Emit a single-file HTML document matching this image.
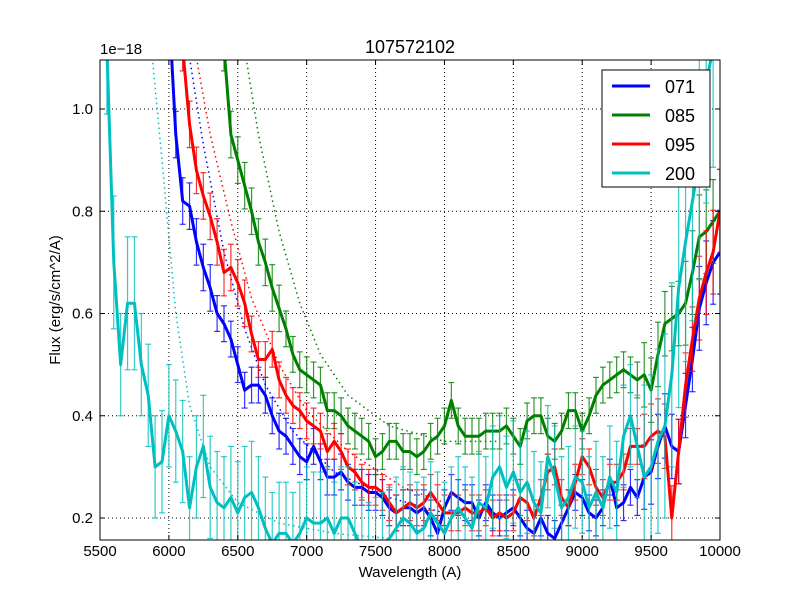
<!DOCTYPE html>
<html><head><meta charset="utf-8"><style>
body{margin:0;background:#fff}
svg{display:block;font-family:"Liberation Sans",sans-serif}
</style></head><body>
<svg id="chart" width="800" height="600">
<rect x="0" y="0" width="800" height="600" fill="#fff"/>
<text x="410" y="53" font-size="18" text-anchor="middle">107572102</text>
<text x="100" y="54" font-size="15">1e−18</text>
<text x="410" y="577" font-size="15" text-anchor="middle">Wavelength (A)</text>
<text x="60" y="300" font-size="15" text-anchor="middle" transform="rotate(-90 60 300)">Flux (erg/s/cm^2/A)</text>
<g id="grid"></g>
<g id="plot" clip-path="url(#clip)"></g>
<defs><clipPath id="clip"><rect x="100" y="60" width="620" height="480"/></clipPath></defs>
<rect x="100" y="60" width="620" height="480" fill="none" stroke="#000" stroke-width="1"/>
<g id="ticks"></g>
<g id="legend"></g>
</svg>
<script>
const xTicks=[5500,6000,6500,7000,7500,8000,8500,9000,9500,10000];
const yTicks=[0.2,0.4,0.6,0.8,1.0];
const names=["071","085","095","200"];
const colors=["#0000ff","#008000","#ff0000","#00bfbf"];
const blueStart=6000;
const blueFlux=[1.2,0.95,0.82,0.81,0.74,0.69,0.65,0.60,0.58,0.55,0.50,0.45,0.46,0.46,0.44,0.40,0.37,0.36,0.34,0.32,0.31,0.34,0.31,0.28,0.28,0.29,0.27,0.26,0.26,0.25,0.25,0.24,0.22,0.21,0.22,0.22,0.21,0.22,0.20,0.17,0.22,0.25,0.24,0.23,0.23,0.20,0.23,0.21,0.20,0.21,0.22,0.20,0.18,0.17,0.20,0.17,0.16,0.19,0.22,0.25,0.24,0.21,0.20,0.22,0.28,0.22,0.23,0.26,0.24,0.28,0.29,0.34,0.38,0.34,0.33,0.42,0.51,0.61,0.66,0.70,0.72];
const redStart=6100;
const redFlux=[1.12,0.97,0.88,0.83,0.79,0.74,0.68,0.69,0.66,0.62,0.56,0.51,0.51,0.53,0.47,0.44,0.42,0.41,0.39,0.38,0.37,0.33,0.35,0.33,0.30,0.29,0.27,0.26,0.26,0.25,0.23,0.21,0.22,0.23,0.22,0.23,0.25,0.23,0.21,0.21,0.21,0.22,0.21,0.21,0.22,0.20,0.21,0.20,0.21,0.24,0.23,0.20,0.24,0.29,0.30,0.24,0.22,0.27,0.32,0.30,0.26,0.24,0.27,0.27,0.29,0.34,0.34,0.34,0.36,0.37,0.36,0.20,0.33,0.46,0.55,0.63,0.68,0.72,0.80];
const greenStart=6400;
const greenFlux=[1.12,0.95,0.90,0.85,0.80,0.74,0.70,0.65,0.61,0.57,0.52,0.49,0.48,0.47,0.46,0.41,0.41,0.40,0.38,0.37,0.36,0.35,0.32,0.33,0.35,0.35,0.33,0.33,0.32,0.33,0.35,0.36,0.38,0.43,0.38,0.36,0.36,0.36,0.37,0.37,0.37,0.38,0.36,0.34,0.39,0.40,0.40,0.36,0.35,0.37,0.41,0.41,0.37,0.40,0.44,0.46,0.47,0.48,0.49,0.48,0.47,0.48,0.45,0.52,0.58,0.59,0.60,0.62,0.68,0.75,0.76,0.78,0.80];
const cyanStart=5550;
const cyanFlux=[1.12,0.70,0.50,0.62,0.62,0.50,0.44,0.30,0.31,0.40,0.37,0.33,0.22,0.30,0.34,0.26,0.23,0.22,0.24,0.21,0.24,0.25,0.22,0.18,0.15,0.17,0.17,0.15,0.17,0.20,0.19,0.19,0.20,0.17,0.20,0.20,0.17,0.14,0.13,0.14,0.15,0.16,0.18,0.20,0.19,0.17,0.18,0.21,0.19,0.17,0.20,0.22,0.20,0.18,0.23,0.22,0.28,0.30,0.26,0.29,0.25,0.27,0.23,0.21,0.32,0.28,0.22,0.24,0.28,0.27,0.22,0.25,0.22,0.28,0.25,0.36,0.40,0.34,0.28,0.30,0.35,0.38,0.48,0.65,0.74,0.82,0.90,1.05,1.12];
const stepA=50;
const errBlue=0.035,errRed=0.035,errGreen=0.035,errCyan=0.1;
const modelBlueW=[6150,6250,6400,6550,6700,6900,7200,7600,8000];
const modelBlueF=[1.1,0.93,0.72,0.57,0.46,0.37,0.29,0.24,0.21];
const modelRedW=[6200,6300,6450,6600,6800,7000,7300,7700,8000];
const modelRedF=[1.1,0.95,0.78,0.63,0.50,0.41,0.33,0.26,0.23];
const modelGreenW=[6560,6650,6800,6950,7100,7300,7600,8000,8400];
const modelGreenF=[1.1,0.95,0.76,0.62,0.52,0.44,0.38,0.35,0.35];
const modelCyanW=[5880,5950,6050,6150,6300,6500,6800,7200,7600];
const modelCyanF=[1.1,0.90,0.60,0.42,0.30,0.23,0.19,0.17,0.16];

const X=w=>100+(w-5500)*620/4500;
const Y=f=>109+(1.0-f)*511.25;
const NS="http://www.w3.org/2000/svg";
function mk(tag,attrs,parent){const e=document.createElementNS(NS,tag);for(const k in attrs)e.setAttribute(k,attrs[k]);parent.appendChild(e);return e;}
const grid=document.getElementById('grid'),plot=document.getElementById('plot'),ticks=document.getElementById('ticks'),legend=document.getElementById('legend');
xTicks.forEach(t=>{
  const x=X(t);
  if(t>5500&&t<10000){const g=mk('line',{x1:x,y1:60,x2:x,y2:540,stroke:'#000','stroke-dasharray':'1,3','stroke-width':1},grid);
  
  }
  mk('line',{x1:x,y1:540,x2:x,y2:535,stroke:'#000'},ticks);mk('line',{x1:x,y1:60,x2:x,y2:65,stroke:'#000'},ticks);
  const tx=mk('text',{x:x,y:556,'font-size':15,'text-anchor':'middle'},ticks);tx.textContent=t;
  
  
});
yTicks.forEach(t=>{
  const y=Y(t);
  const g=mk('line',{x1:100,y1:y,x2:720,y2:y,stroke:'#000','stroke-dasharray':'1,3','stroke-width':1},grid);
  
  
  mk('line',{x1:100,y1:y,x2:105,y2:y,stroke:'#000'},ticks);mk('line',{x1:715,y1:y,x2:720,y2:y,stroke:'#000'},ticks);
  const tx=mk('text',{x:93,y:y+5,'font-size':15,'text-anchor':'end'},ticks);tx.textContent=t.toFixed(1);
  
  
});
const series=[[blueStart,blueFlux,errBlue,modelBlueW,modelBlueF],[greenStart,greenFlux,errGreen,modelGreenW,modelGreenF],[redStart,redFlux,errRed,modelRedW,modelRedF],[cyanStart,cyanFlux,errCyan,modelCyanW,modelCyanF]];
// models first
series.forEach((s,i)=>{
  const pts=s[3].map((w,j)=>X(w)+','+Y(s[4][j])).join(' ');
  const m=mk('polyline',{points:pts,fill:'none',stroke:colors[i],'stroke-width':1.5,'stroke-dasharray':'1.5,3.5'},plot);
  
  
});
series.forEach((s,i)=>{
  const g=mk('g',{},plot);
  
  
  const pts=[];
  s[1].forEach((f,j)=>{
    const w=s[0]+j*stepA,x=X(w);
    const e=s[2]*(w>9400?1.8:1)*(f>0.6?1.3:1);
    const y1=Y(f+e),y2=Y(f-e);
    mk('line',{x1:x,y1:y1,x2:x,y2:y2,stroke:colors[i],'stroke-width':1.2,opacity:0.8},g);
    mk('line',{x1:x-3,y1:y1,x2:x+3,y2:y1,stroke:colors[i],'stroke-width':1.2,opacity:0.8},g);
    mk('line',{x1:x-3,y1:y2,x2:x+3,y2:y2,stroke:colors[i],'stroke-width':1.2,opacity:0.8},g);
    pts.push(x+','+Y(f));
  });
  mk('polyline',{points:pts.join(' '),fill:'none',stroke:colors[i],'stroke-width':3,'stroke-linejoin':'round'},g);
});
const lb=mk('rect',{x:602,y:70,width:108,height:117,fill:'#fff',stroke:'#000'},legend);


names.forEach((n,i)=>{
  const y=86+i*29;
  const g=mk('g',{},legend);
  
  
  mk('line',{x1:612,y1:y,x2:650,y2:y,stroke:colors[i],'stroke-width':3},g);
  const t=mk('text',{x:665,y:y+7,'font-size':18},g);t.textContent=n;
});
</script>
</body></html>
